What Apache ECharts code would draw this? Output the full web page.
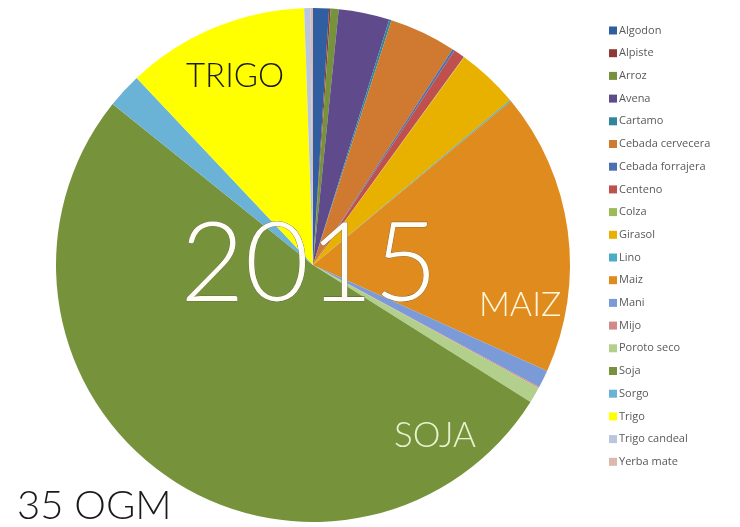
<!DOCTYPE html>
<html>
<head>
<meta charset="utf-8">
<script src="https://cdn.jsdelivr.net/npm/echarts@6/dist/echarts.min.js"></script>
<style>
html, body { margin: 0; padding: 0; background: #fff; }
#main { width: 740px; height: 527px; }
</style>
</head>
<body>
<div id="main"></div>
<script>
// cultivos 2015 - participacion (%)
var cultivos = ['Algodon', 'Alpiste', 'Arroz', 'Avena', 'Cartamo', 'Cebada cervecera',
    'Cebada forrajera', 'Centeno', 'Colza', 'Girasol', 'Lino', 'Maiz', 'Mani', 'Mijo',
    'Poroto seco', 'Soja', 'Sorgo', 'Trigo', 'Trigo candeal', 'Yerba mate'];
var valores = [1.0, 0.1, 0.5, 3.2, 0.15, 4.2, 0.15, 0.7, 0.03, 3.9, 0.08, 17.8, 1.1, 0.08,
    1.0, 51.9, 2.2, 11.5, 0.4, 0.15];
var colores = ['#2f5fa0', '#8b3a36', '#76923c', '#5f4a8b', '#31859c', '#cf7a30',
    '#4a72b0', '#c0504d', '#9bbb59', '#e8b100', '#4bacc6', '#e08b1d', '#7b9bd8', '#d08a8a',
    '#b3cf8c', '#76933c', '#6ab2d6', '#ffff00', '#b9c6de', '#ddb8ae'];

var myChart = echarts.init(document.getElementById('main'));

var data = [];
for (var i = 0; i < cultivos.length; i++) {
    data.push({
        name: cultivos[i],
        value: valores[i],
        itemStyle: { color: colores[i] }
    });
}

var fuente = 'Lato, Inter, "DejaVu Sans", sans-serif';

var option = {
    animation: false,
    legend: {
        orient: 'vertical',
        left: 604,
        top: 20,
        icon: 'rect',
        itemWidth: 8,
        itemHeight: 8,
        itemGap: 11.7,
        textStyle: {
            color: '#595959',
            fontSize: 11,
            fontFamily: '"Open Sans", sans-serif',
            padding: [0, 0, 0, -3]
        },
        data: cultivos
    },
    graphic: [{
        type: 'text',
        left: 180,
        top: 209,
        z: 100,
        style: {
            text: '2015',
            font: '300 111px ' + fuente,
            fill: '#fffdf4',
            stroke: '#555',
            lineWidth: 0.6,
            shadowColor: 'rgba(0,0,0,0.5)',
            shadowBlur: 3
        }
    }, {
        type: 'text',
        left: 186,
        top: 60,
        z: 100,
        style: { text: 'TRIGO', font: '300 33px ' + fuente, fill: '#1a1a1a' }
    }, {
        type: 'text',
        left: 479,
        top: 288,
        z: 100,
        style: { text: 'MAIZ', font: '300 34px ' + fuente, fill: '#fff6dc' }
    }, {
        type: 'text',
        left: 394,
        top: 418,
        z: 100,
        style: { text: 'SOJA', font: '300 35px ' + fuente, fill: '#e8f2d2' }
    }, {
        type: 'text',
        left: 17,
        top: 486,
        z: 100,
        style: { text: '35 OGM', font: '300 40px ' + fuente, fill: '#1a1a1a' }
    }],
    series: [{
        type: 'pie',
        center: [313, 265],
        radius: 257,
        startAngle: 90,
        clockwise: true,
        avoidLabelOverlap: false,
        label: { show: false },
        labelLine: { show: false },
        itemStyle: { borderWidth: 0 },
        data: data
    }]
};
myChart.setOption(option);
</script>
</body>
</html>
